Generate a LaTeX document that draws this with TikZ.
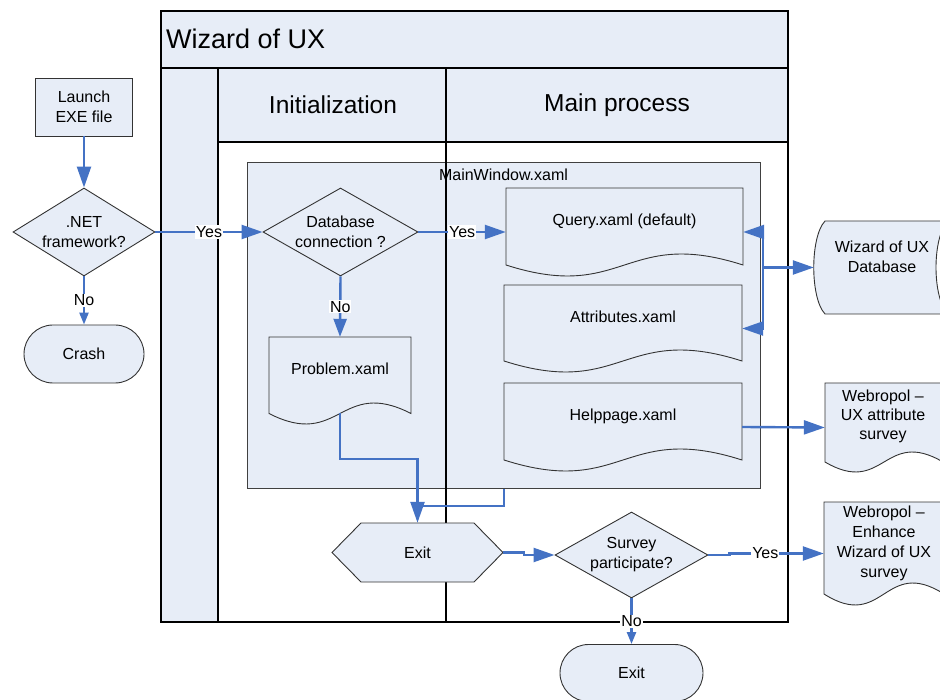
\documentclass[tikz,border=0pt]{standalone}
\usepackage{fontspec}
\setmainfont{Liberation Sans}
\usetikzlibrary{shapes.geometric,shapes.misc,arrows.meta,calc}

\definecolor{paleblue}{RGB}{231,237,247}
\definecolor{flowblue}{RGB}{68,114,196}
\newcommand\nodefont{\fontsize{16}{20}\selectfont}

\tikzset{
  shapeline/.style={draw=black!80, line width=0.9pt, fill=paleblue},
  poolline/.style={draw=black, line width=1.1pt},
  flowline/.style={draw=flowblue, line width=2.4pt},
  conn/.style={flowline, -{Triangle[length=21pt,width=14pt]}},
  connmid/.style={flowline, -{Triangle[length=18pt,width=13pt]}},
  connsmall/.style={flowline, -{Triangle[length=12pt,width=9pt]}},
  lbl/.style={fill=white, inner sep=1pt, font=\nodefont},
  txt/.style={font=\nodefont, align=center, inner sep=0pt},
  decision/.style={shapeline, diamond, inner sep=0pt, font=\nodefont, align=center},
  terminal/.style={shapeline, rounded rectangle, inner sep=0pt, font=\nodefont},
}

% document shape: name, left, top, right, lowest point of the wave, wave amplitude
\newcommand\docshape[6]{%
  \pgfmathsetmacro\dsyb{#5-#6}%
  \pgfmathsetmacro\dsxm{(#2+#4)/2}%
  \pgfmathsetmacro\dsk{3.46*#6}%
  \pgfmathsetmacro\dsw{#4-#2}%
  \pgfmathsetmacro\dsh{#5-#3}%
  \pgfmathsetmacro\dscy{(#3+#5)/2}%
  \draw[shapeline] (#2,#3) -- (#4,#3) -- (#4,\dsyb)
    .. controls (\dsxm,\dsyb-\dsk) and (\dsxm,\dsyb+\dsk) .. (#2,\dsyb) -- cycle;
  \node[inner sep=0pt, minimum width=\dsw pt, minimum height=\dsh pt] (#1) at (\dsxm,\dscy) {};
  \coordinate (#1-w) at (\dsxm,\dsyb);
}

\begin{document}
\begin{tikzpicture}[x=1pt,y=-1pt]
\useasboundingbox (0,0) rectangle (940,700);
\clip (0,0) rectangle (940,700);

% ---- pool with its two lanes
\fill[paleblue] (161,11) rectangle (788,68);
\fill[paleblue] (161,68) rectangle (218,622);
\fill[paleblue] (218,68) rectangle (788,142);
\draw[poolline] (161,11) rectangle (788,622);
\draw[poolline] (161,68) -- (788,68);
\draw[poolline] (218,68) -- (218,622);
\draw[poolline] (218,142) -- (788,142);
\node[anchor=west, inner sep=0pt, font=\fontsize{27}{30}\selectfont] (pooltitle) at (166,39) {Wizard of UX};
\node[font=\fontsize{24.5}{28}\selectfont] (laneinit) at (333,105) {Initialization};
\node[font=\fontsize{24.5}{28}\selectfont] (lanemain) at (617,105) {Main process};

% ---- main window container
\node[draw=black!75, line width=1pt, fill=paleblue, anchor=north west,
      minimum width=513pt, minimum height=326pt, inner sep=0pt] (mainwin) at (247,162) {};
\draw[poolline] (446,68) -- (446,622);
\node[txt] (mainwinlabel) at (503.5,175) {MainWindow.xaml};

% ---- start-up checks
\node[shapeline, minimum width=97pt, minimum height=58pt, inner sep=0pt,
      font=\nodefont, align=center] (launch) at (84,107) {Launch\\EXE file};
\node[decision, minimum width=142pt, minimum height=88pt, aspect=1.61] (net) at (84,232) {.NET\\framework?};
\node[terminal, minimum width=120pt, minimum height=58pt] (crash) at (84,354) {Crash};

\node[decision, minimum width=155pt, minimum height=88pt, aspect=1.76] (dbq) at (340.5,232) {Database\\connection ?};

% ---- pages
\docshape{problem}{269}{337}{411}{424}{10.5}
\node[txt] (problemtext) at (340,369) {Problem.xaml};
\docshape{query}{506}{188}{743}{276}{11}
\node[txt] (querytext) at (624.5,221) {Query.xaml (default)};
\docshape{attr}{504}{285}{742}{372}{11}
\node[txt] (attrtext) at (623,317) {Attributes.xaml};
\docshape{help}{504}{383}{742}{471}{11}
\node[txt] (helptext) at (623,416) {Helppage.xaml};

% ---- external resources
\draw[shapeline] (825,221) -- (948,221) .. controls (932,237) and (932,298) .. (948,314)
  -- (825,314) .. controls (810,298) and (810,237) .. (825,221) -- cycle;
\node[inner sep=0pt, minimum width=134pt, minimum height=93pt] (db) at (881,267.5) {};
\node[txt] (dbtext) at (882,257) {Wizard of UX\\Database};

\docshape{wux}{825}{383}{943}{472}{10}
\node[txt, font=\fontsize{16}{19}\selectfont] (wuxtext) at (883,416) {Webropol –\\UX attribute\\survey};
\docshape{enh}{824}{502}{944}{605}{11}
\node[txt] (enhtext) at (884,543) {Webropol –\\Enhance\\Wizard of UX\\survey};

% ---- exit and survey
\draw[shapeline] (332,552.5) -- (361,523) -- (474,523) -- (503,552.5) -- (474,582) -- (361,582) -- cycle;
\node[txt, minimum width=171pt, minimum height=59pt] (exitA) at (417.5,552.5) {Exit};
\node[decision, minimum width=153pt, minimum height=86pt, aspect=1.78] (survey) at (631.5,555) {Survey\\participate?};
\node[terminal, minimum width=143pt, minimum height=57pt] (exitB) at (631.5,673) {Exit};

% ---- connectors
\draw[conn] (launch.south) -- (net.north);
\draw[conn] (net.east) -- node[lbl] (yesnet) {Yes} (dbq.west);
\draw[connsmall] (net.south) -- node[lbl] (nonet) {No} (crash.north);
\draw[conn] (dbq.east) -- node[lbl] (yesdb) {Yes} (query.west);
\draw[connmid] (dbq.south) -- node[lbl] (nodb) {No} (problem.north);

\draw[flowline] (mainwin.south) |- ([yshift=17pt]exitA.north);
\draw[conn] (problem-w) -- ++(0,45.5) -| (exitA.north);

\coordinate (bus) at (763,267.5);
\draw[flowline] (bus |- query.east) -- (bus |- attr.east);
\draw[conn] (bus |- query.east) -- (query.east);
\draw[conn] (bus |- attr.east) -- (attr.east);
\draw[conn] (bus) -- (db.west);
\draw[conn] (help.east) -- (wux.west);

\draw[conn] (exitA.east) -- ++(21,0) |- (survey.west);
\draw[conn] (survey.east) -- ++(21,0) |- (enh.west) node[lbl, pos=0.69] (yessurvey) {Yes};
\draw[connsmall] (survey.south) -- node[lbl] (nosurvey) {No} (exitB.north);
\end{tikzpicture}
\end{document}
